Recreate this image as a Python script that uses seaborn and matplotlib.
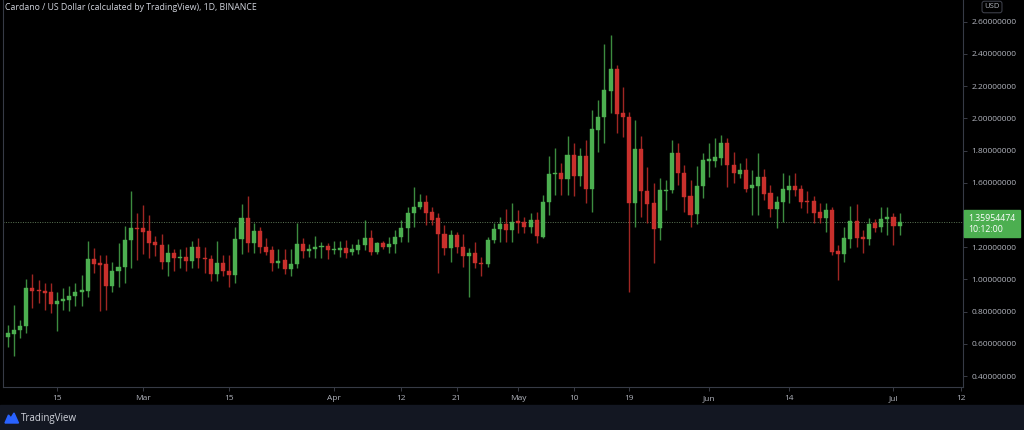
import numpy as np
import pandas as pd
import seaborn as sns
import matplotlib.pyplot as plt
import matplotlib.dates as mdates
from matplotlib.patches import Rectangle, Polygon, FancyBboxPatch

# daily ADA/USD candles, 2021-02-07 .. 2021-07-02
start_date = "2021-02-07"
opens = [0.640, 0.661, 0.683, 0.711, 0.945, 0.935, 0.930, 0.920, 0.846, 0.864,
         0.873, 0.897, 0.920, 0.930, 1.125, 1.100, 1.098, 0.960, 1.050, 1.077,
         1.245, 1.317, 1.317, 1.300, 1.230, 1.215, 1.110, 1.162, 1.131, 1.140,
         1.117, 1.200, 1.135, 1.125, 1.036, 1.100, 1.050, 1.030, 1.250, 1.380,
         1.228, 1.300, 1.200, 1.180, 1.104, 1.120, 1.063, 1.096, 1.217, 1.178,
         1.190, 1.200, 1.210, 1.180, 1.183, 1.193, 1.169, 1.185, 1.214, 1.255,
         1.172, 1.224, 1.203, 1.220, 1.265, 1.317, 1.414, 1.452, 1.483, 1.417,
         1.379, 1.282, 1.193, 1.276, 1.203, 1.145, 1.162, 1.104, 1.094, 1.245,
         1.311, 1.342, 1.307, 1.363, 1.358, 1.327, 1.369, 1.265, 1.483, 1.653,
         1.659, 1.624, 1.773, 1.642, 1.766, 1.563, 1.928, 2.007, 2.172, 2.305,
         2.032, 2.007, 1.473, 1.808, 1.551, 1.473, 1.317, 1.549, 1.555, 1.783,
         1.659, 1.518, 1.404, 1.580, 1.737, 1.737, 1.752, 1.849, 1.711, 1.655,
         1.680, 1.566, 1.580, 1.634, 1.535, 1.435, 1.483, 1.555, 1.580, 1.559,
         1.489, 1.489, 1.421, 1.383, 1.431, 1.178, 1.158, 1.251, 1.365, 1.261,
         1.251, 1.348, 1.327, 1.373, 1.390, 1.334]
highs = [0.717, 0.841, 0.748, 1.004, 1.032, 0.996, 0.976, 0.976, 0.924, 0.945,
         0.959, 0.979, 1.025, 1.238, 1.193, 1.151, 1.151, 1.107, 1.224, 1.334,
         1.551, 1.410, 1.462, 1.400, 1.270, 1.280, 1.220, 1.190, 1.190, 1.200,
         1.240, 1.260, 1.200, 1.150, 1.236, 1.150, 1.150, 1.327, 1.468, 1.515,
         1.350, 1.328, 1.260, 1.210, 1.190, 1.190, 1.190, 1.349, 1.260, 1.220,
         1.270, 1.230, 1.225, 1.240, 1.239, 1.245, 1.220, 1.250, 1.369, 1.307,
         1.235, 1.240, 1.265, 1.307, 1.369, 1.452, 1.576, 1.530, 1.524, 1.452,
         1.410, 1.338, 1.307, 1.296, 1.282, 1.193, 1.234, 1.140, 1.265, 1.348,
         1.390, 1.435, 1.473, 1.431, 1.389, 1.410, 1.420, 1.524, 1.766, 1.814,
         1.721, 1.891, 1.845, 1.814, 1.866, 2.052, 2.114, 2.462, 2.518, 2.331,
         2.193, 2.042, 1.990, 1.891, 1.700, 1.597, 1.628, 1.617, 1.866, 1.849,
         1.711, 1.617, 1.704, 1.783, 1.845, 1.876, 1.897, 1.876, 1.793, 1.721,
         1.752, 1.680, 1.787, 1.684, 1.586, 1.518, 1.659, 1.648, 1.659, 1.586,
         1.550, 1.518, 1.472, 1.472, 1.452, 1.214, 1.327, 1.456, 1.468, 1.307,
         1.379, 1.373, 1.452, 1.452, 1.410, 1.410]
lows = [0.582, 0.524, 0.634, 0.665, 0.821, 0.852, 0.810, 0.790, 0.681, 0.810,
        0.805, 0.836, 0.836, 0.890, 1.038, 0.802, 0.810, 0.921, 0.955, 0.976,
        1.069, 1.120, 1.160, 1.131, 1.146, 1.063, 1.019, 1.050, 1.073, 1.054,
        1.073, 1.070, 1.040, 0.992, 0.990, 1.019, 0.955, 0.976, 1.155, 1.170,
        1.165, 1.165, 1.150, 1.054, 1.073, 1.036, 1.020, 1.073, 1.131, 1.140,
        1.130, 1.130, 1.125, 1.160, 1.137, 1.131, 1.150, 1.160, 1.183, 1.151,
        1.160, 1.190, 1.162, 1.162, 1.234, 1.234, 1.327, 1.435, 1.338, 1.338,
        1.038, 1.151, 1.110, 1.162, 1.079, 0.893, 1.069, 1.021, 1.079, 1.228,
        1.234, 1.234, 1.234, 1.286, 1.286, 1.286, 1.224, 1.255, 1.400, 1.524,
        1.524, 1.524, 1.518, 1.580, 1.476, 1.420, 1.793, 1.845, 2.035, 1.907,
        1.886, 0.924, 1.327, 1.389, 1.348, 1.100, 1.245, 1.431, 1.535, 1.586,
        1.420, 1.327, 1.344, 1.504, 1.638, 1.700, 1.711, 1.576, 1.597, 1.628,
        1.545, 1.400, 1.400, 1.493, 1.386, 1.317, 1.358, 1.473, 1.518, 1.442,
        1.410, 1.352, 1.352, 1.296, 1.152, 0.996, 1.110, 1.193, 1.203, 1.162,
        1.214, 1.296, 1.296, 1.276, 1.214, 1.276]
closes = [0.669, 0.686, 0.712, 0.945, 0.928, 0.927, 0.914, 0.846, 0.864, 0.876,
          0.900, 0.920, 0.934, 1.125, 1.098, 1.090, 0.961, 1.054, 1.079, 1.245,
          1.317, 1.311, 1.296, 1.224, 1.212, 1.110, 1.162, 1.131, 1.140, 1.117,
          1.200, 1.131, 1.125, 1.036, 1.100, 1.050, 1.030, 1.250, 1.380, 1.228,
          1.301, 1.200, 1.170, 1.104, 1.117, 1.063, 1.098, 1.217, 1.178, 1.190,
          1.204, 1.210, 1.180, 1.190, 1.193, 1.166, 1.189, 1.214, 1.255, 1.172,
          1.224, 1.199, 1.220, 1.265, 1.317, 1.414, 1.452, 1.483, 1.414, 1.369,
          1.282, 1.193, 1.276, 1.203, 1.145, 1.162, 1.104, 1.094, 1.245, 1.311,
          1.342, 1.307, 1.358, 1.352, 1.327, 1.369, 1.270, 1.483, 1.653, 1.659,
          1.624, 1.773, 1.642, 1.766, 1.563, 1.932, 2.011, 2.176, 2.305, 2.027,
          2.007, 1.473, 1.808, 1.551, 1.466, 1.313, 1.555, 1.555, 1.783, 1.659,
          1.510, 1.400, 1.580, 1.742, 1.746, 1.758, 1.849, 1.711, 1.659, 1.680,
          1.559, 1.586, 1.634, 1.530, 1.435, 1.483, 1.559, 1.580, 1.555, 1.483,
          1.481, 1.414, 1.383, 1.431, 1.172, 1.158, 1.255, 1.363, 1.255, 1.251,
          1.342, 1.321, 1.373, 1.386, 1.332, 1.3595447]

last_price = 1.35954474
tick_dates = ["2021-02-15", "2021-03-01", "2021-03-15", "2021-04-01", "2021-04-12",
              "2021-04-21", "2021-05-01", "2021-05-10", "2021-05-19", "2021-06-01",
              "2021-06-14", "2021-07-01", "2021-07-12"]
tick_labels = ["15", "Mar", "15", "Apr", "12", "21", "May", "10", "19", "Jun", "14", "Jul", "12"]
price_ticks = [0.4, 0.6, 0.8, 1.0, 1.2, 1.4, 1.6, 1.8, 2.0, 2.2, 2.4, 2.6]

up_color = "#4caf50"
down_color = "#c8302c"
text_color = "#b2b5be"

df = pd.DataFrame({
    "date": pd.date_range(start_date, periods=len(opens), freq="D"),
    "open": opens, "high": highs, "low": lows, "close": closes,
})
df["up"] = df["close"] >= df["open"]
df["color"] = np.where(df["up"], up_color, down_color)
df["bottom"] = df[["open", "close"]].min(axis=1)
df["height"] = (df["close"] - df["open"]).abs().clip(lower=0.006)

sns.set_theme(style="dark", rc={"axes.facecolor": "black", "figure.facecolor": "black",
                                "axes.grid": False})
plt.rcParams["font.family"] = ["Open Sans", "DejaVu Sans"]

fig = plt.figure(figsize=(10.24, 4.3), dpi=100)
ax = fig.add_axes([3 / 1024, 43 / 430, 960 / 1024, 387 / 430])

# wicks then bodies
ax.vlines(df["date"], df["low"], df["high"], colors=df["color"], lw=1.0, alpha=0.8, zorder=2)
ax.bar(df["date"], df["height"], bottom=df["bottom"], width=0.66, color=df["color"],
       edgecolor=df["color"], linewidth=0.3, zorder=3)

# last price line
ax.axhline(last_price, color="#5d7656", lw=0.7, ls=(0, (1, 1.5)), zorder=1)

feb15 = pd.Timestamp("2021-02-15")
ax.set_xlim(feb15 - pd.Timedelta(days=8.78), feb15 + pd.Timedelta(days=147.3))
ax.set_ylim(0.332, 2.735)

ax.set_xticks(pd.to_datetime(tick_dates))
ax.set_xticklabels(tick_labels)
ax.yaxis.tick_right()
ax.set_yticks(price_ticks)
ax.set_yticklabels([f"{p:.8f}" for p in price_ticks])
ax.tick_params(axis="x", colors=text_color, labelsize=6, length=3, width=0.6, pad=3,
               color="#434651", bottom=True)
ax.tick_params(axis="y", colors=text_color, labelsize=6, length=3, width=0.6, pad=3,
               color="#434651", right=True, left=False)
ax.spines["top"].set_visible(False)
for side in ["bottom", "right", "left"]:
    ax.spines[side].set_color("#363a45")
    ax.spines[side].set_linewidth(0.8)
ax.set_xlabel("")
ax.set_ylabel("")

# title
fig.text(5 / 1024, 1 - 8 / 430, "Cardano / US Dollar (calculated by TradingView), 1D, BINANCE",
         color="#d1d4dc", fontsize=6.3, va="center", ha="left")

# USD badge
fig.text(992 / 1024, 1 - 7 / 430, "USD", color=text_color, fontsize=5.5, ha="center", va="center",
         bbox=dict(boxstyle="round,pad=0.3,rounding_size=0.3", fc="black", ec="#434651", lw=0.7))

# current price tag
fig.patches.append(Rectangle((964 / 1024, 1 - 237 / 430), 56 / 1024, 27 / 430,
                             transform=fig.transFigure, color=up_color, zorder=5))
fig.text(968 / 1024, 1 - 218 / 430, f"{last_price:.8f}", color="white", fontsize=6.3,
         ha="left", va="center", zorder=6)
fig.text(968 / 1024, 1 - 229.5 / 430, "10:12:00", color="white", fontsize=6.3,
         ha="left", va="center", zorder=6)

# bottom bar with logo
fig.patches.append(Rectangle((0, 0), 1, 25 / 430, transform=fig.transFigure,
                             color="#131722", zorder=0))
logo = [(5, 423), (8.5, 415), (11, 418), (14, 413), (18.5, 423)]
fig.patches.append(Polygon([(x / 1024, 1 - y / 430) for x, y in logo], closed=True,
                           transform=fig.transFigure, color="#2962ff", zorder=2))
fig.text(21 / 1024, 1 - 418 / 430, "TradingView", color="#d1d4dc", fontsize=7,
         ha="left", va="center")

fig.savefig("out.png", dpi=100, facecolor=fig.get_facecolor())
